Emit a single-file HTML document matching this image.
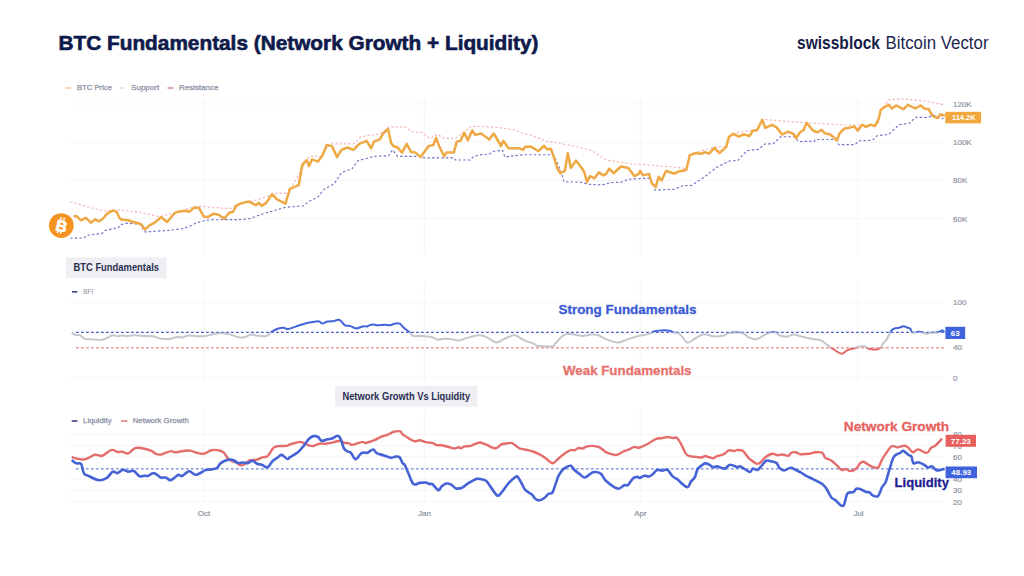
<!DOCTYPE html>
<html><head><meta charset="utf-8"><style>
html,body{margin:0;padding:0;background:#fff;}
body{width:1024px;height:576px;overflow:hidden;position:relative;font-family:"Liberation Sans",sans-serif;}
svg{position:absolute;left:0;top:0;}
</style></head><body>
<svg width="1024" height="576" viewBox="0 0 1024 576" font-family="Liberation Sans, sans-serif">
<rect width="1024" height="576" fill="#ffffff"/>
<line x1="70" y1="104" x2="945" y2="104" stroke="#f4f5f7" stroke-width="1"/>
<line x1="70" y1="142" x2="945" y2="142" stroke="#f4f5f7" stroke-width="1"/>
<line x1="70" y1="180.5" x2="945" y2="180.5" stroke="#f4f5f7" stroke-width="1"/>
<line x1="70" y1="218.5" x2="945" y2="218.5" stroke="#f4f5f7" stroke-width="1"/>
<line x1="70" y1="302.5" x2="945" y2="302.5" stroke="#f4f5f8" stroke-width="1"/>
<line x1="70" y1="378" x2="945" y2="378" stroke="#f4f5f8" stroke-width="1"/>
<line x1="70" y1="434.4" x2="945" y2="434.4" stroke="#f4f5f8" stroke-width="1"/>
<line x1="70" y1="445.6" x2="945" y2="445.6" stroke="#f4f5f8" stroke-width="1"/>
<line x1="70" y1="456.8" x2="945" y2="456.8" stroke="#f4f5f8" stroke-width="1"/>
<line x1="70" y1="468.4" x2="945" y2="468.4" stroke="#f4f5f8" stroke-width="1"/>
<line x1="70" y1="479.2" x2="945" y2="479.2" stroke="#f4f5f8" stroke-width="1"/>
<line x1="70" y1="490.4" x2="945" y2="490.4" stroke="#f4f5f8" stroke-width="1"/>
<line x1="70" y1="501.6" x2="945" y2="501.6" stroke="#f4f5f8" stroke-width="1"/>
<line x1="203.5" y1="98" x2="203.5" y2="255" stroke="#f4f5f7" stroke-width="1"/>
<line x1="203.5" y1="282" x2="203.5" y2="385" stroke="#f4f5f7" stroke-width="1"/>
<line x1="203.5" y1="410" x2="203.5" y2="502.5" stroke="#f4f5f7" stroke-width="1"/>
<line x1="424.3" y1="98" x2="424.3" y2="255" stroke="#f4f5f7" stroke-width="1"/>
<line x1="424.3" y1="282" x2="424.3" y2="385" stroke="#f4f5f7" stroke-width="1"/>
<line x1="424.3" y1="410" x2="424.3" y2="502.5" stroke="#f4f5f7" stroke-width="1"/>
<line x1="640.2" y1="98" x2="640.2" y2="255" stroke="#f4f5f7" stroke-width="1"/>
<line x1="640.2" y1="282" x2="640.2" y2="385" stroke="#f4f5f7" stroke-width="1"/>
<line x1="640.2" y1="410" x2="640.2" y2="502.5" stroke="#f4f5f7" stroke-width="1"/>
<line x1="857.8" y1="98" x2="857.8" y2="255" stroke="#f4f5f7" stroke-width="1"/>
<line x1="857.8" y1="282" x2="857.8" y2="385" stroke="#f4f5f7" stroke-width="1"/>
<line x1="857.8" y1="410" x2="857.8" y2="502.5" stroke="#f4f5f7" stroke-width="1"/>
<polyline points="70.3,201.7 94.2,208.6 104.0,211.0 118.6,210.0 138.1,212.0 155.7,215.9 160.0,216.5 175.0,213.0 195.0,206.5 202.9,206.4 223.4,208.3 231.2,208.3 240.0,203.0 252.7,201.0 276.6,193.3 288.4,193.3 302.4,167.5 309.1,156.4 320.9,156.4 329.7,143.9 353.4,143.9 360.7,137.0 370.0,135.0 380.0,134.0 388.9,126.8 405.1,126.8 412.5,132.0 422.8,132.7 430.2,138.6 437.6,134.2 443.5,137.9 455.3,138.6 471.5,126.1 498.1,127.5 512.9,129.8 521.7,132.7 530.0,134.9 547.1,141.4 569.3,145.1 591.4,150.3 606.2,159.9 628.4,163.6 657.9,165.8 675.0,167.2 686.2,168.5 689.5,155.0 695.8,152.5 714.3,147.3 726.0,146.6 729.1,136.2 733.5,133.3 752.7,130.3 757.1,129.6 762.3,119.3 764.5,119.5 795.5,122.0 820.0,123.5 843.0,125.0 878.0,125.0 880.7,110.0 884.4,106.5 888.8,99.6 903.6,98.9 930.2,101.8 943.5,104.8" fill="none" stroke="#f3b2ae" stroke-width="1.15" stroke-dasharray="2.2,2.2"/>
<polyline points="70.3,238.3 84.4,237.9 86.4,235.4 102.0,233.5 104.9,230.5 118.6,227.6 120.5,224.7 126.4,223.2 140.0,224.2 145.0,232.0 169.6,230.3 184.3,228.3 190.2,225.9 196.0,223.0 205.8,220.2 213.6,219.8 242.9,219.5 250.0,218.4 264.8,213.3 285.4,207.3 303.2,205.9 309.1,201.4 317.9,197.0 323.8,189.6 334.2,183.7 341.5,172.6 351.9,169.0 357.8,160.8 374.0,156.4 388.8,155.7 392.5,149.8 397.6,156.4 419.9,156.3 424.3,157.8 453.8,157.8 455.3,160.0 470.1,160.0 473.0,157.1 478.9,154.9 489.3,154.1 493.7,151.2 502.5,150.4 504.8,157.1 515.8,155.6 525.0,154.7 553.1,154.7 556.7,161.3 561.2,172.4 564.1,182.0 579.6,182.0 588.5,184.2 601.8,185.0 610.6,182.7 622.4,182.0 628.4,179.1 649.0,178.3 653.5,185.0 654.9,190.1 674.4,189.2 683.3,185.5 691.4,185.5 704.0,177.3 717.2,167.0 729.1,161.1 737.9,160.4 746.8,150.8 758.6,149.3 764.5,144.1 773.4,143.7 780.7,136.7 794.0,136.7 798.5,141.6 814.7,141.2 815.0,139.5 832.7,139.5 837.1,140.9 838.6,144.6 854.9,144.6 859.3,140.9 872.6,140.2 877.0,135.8 888.8,134.3 899.2,124.7 909.5,123.2 915.4,117.3 928.7,117.3 933.1,115.1 943.5,118.8" fill="none" stroke="#6d71c6" stroke-width="1.15" stroke-dasharray="2.4,2.2"/>
<polyline points="73.7,215.9 76.6,216.2 81.0,220.3 85.9,217.8 90.8,222.7 95.2,219.3 99.1,221.3 103.0,218.8 105.9,214.9 108.8,212.5 113.7,210.5 116.6,212.0 119.6,218.3 122.5,219.8 128.4,220.3 132.3,221.7 138.1,223.2 141.1,224.2 145.0,229.6 149.8,225.2 153.8,223.2 157.7,220.3 160.9,217.1 167.2,222.0 174.5,213.2 178.4,211.7 185.3,210.8 189.2,211.7 194.1,207.8 198.9,207.8 203.8,216.6 207.7,217.1 213.6,213.7 218.5,214.7 224.3,218.6 229.2,212.7 233.1,211.7 236.1,205.9 240.9,203.4 248.8,201.5 250.0,202.2 255.9,205.1 258.9,202.9 261.8,205.9 266.2,202.9 272.1,194.1 276.6,199.2 285.4,203.7 289.9,188.9 298.7,185.2 302.4,164.5 306.8,160.1 309.1,166.0 312.0,159.4 317.9,161.6 322.3,155.7 326.8,145.0 331.9,146.1 337.1,157.1 341.5,149.8 347.4,147.5 353.4,149.8 359.3,143.9 366.6,140.9 371.1,148.3 374.0,141.6 379.9,139.4 383.0,133.5 388.1,129.0 391.1,143.1 393.3,146.0 397.7,147.5 402.1,152.6 406.6,143.8 411.0,151.9 415.4,152.6 420.6,157.1 428.7,146.0 433.2,145.3 436.1,137.9 439.1,146.0 444.2,156.3 446.4,152.6 453.8,152.6 456.8,141.6 460.5,140.8 464.2,132.7 467.8,140.1 472.3,130.5 475.2,134.9 481.1,133.5 489.3,139.4 493.7,133.5 501.1,146.0 503.3,140.8 508.5,148.2 518.8,148.2 523.2,149.7 525.4,146.7 530.9,146.6 538.3,151.0 544.2,145.8 547.1,149.5 550.8,148.8 553.1,154.7 557.5,168.7 560.4,173.2 564.9,170.9 567.8,153.2 570.8,168.0 575.9,160.6 581.1,167.2 584.1,171.7 587.0,182.0 590.0,176.1 594.4,178.3 598.8,172.4 603.3,175.4 606.2,173.9 609.2,168.7 613.6,173.2 621.0,166.5 628.4,168.0 634.3,176.1 638.7,173.9 640.2,170.9 643.1,175.4 649.0,173.9 652.0,183.5 655.7,187.2 658.6,176.8 661.6,180.5 666.0,170.9 670.0,172.2 674.4,173.7 678.9,171.4 686.2,170.0 689.9,155.2 695.8,153.0 701.0,153.7 705.4,152.2 709.1,153.7 714.3,147.8 719.5,153.0 726.1,147.1 729.1,136.7 733.5,133.8 738.7,136.7 743.8,134.5 749.7,136.0 752.7,130.8 757.1,130.1 762.3,119.8 765.2,127.9 771.9,124.9 776.3,127.1 782.2,134.5 788.1,131.6 793.3,133.8 796.2,138.2 799.9,132.3 803.6,130.1 806.6,122.7 813.2,130.8 817.6,132.3 821.6,129.9 825.3,133.6 829.8,134.3 837.1,140.2 839.4,133.6 844.5,128.4 850.4,127.6 854.1,126.2 857.8,130.6 862.2,124.7 865.9,126.9 871.1,124.7 874.8,126.2 878.5,119.5 880.7,109.9 884.4,107.0 888.8,104.8 891.8,108.5 896.2,105.5 903.6,109.2 908.0,104.8 915.4,108.5 920.6,105.5 924.3,108.5 928.7,109.2 932.4,115.8 937.5,118.1 940.5,114.4 944.9,115.8" fill="none" stroke="#eea944" stroke-width="2.5" stroke-linejoin="round"/>
<defs><clipPath id="cb"><rect x="0" y="0" width="1024" height="332.4"/></clipPath><clipPath id="cg"><rect x="0" y="332.4" width="1024" height="15.3"/></clipPath><clipPath id="cr"><rect x="0" y="347.7" width="1024" height="100"/></clipPath></defs>
<line x1="76" y1="332.4" x2="945" y2="332.4" stroke="#4c5cc4" stroke-width="1.3" stroke-dasharray="2.8,2.2"/>
<line x1="76" y1="347.7" x2="945" y2="347.7" stroke="#e99a9a" stroke-width="1.4" stroke-dasharray="2.8,2.2"/>
<path clip-path="url(#cb)" d="M71.6,333.0 C72.2,333.3 73.5,334.4 75.0,334.8 C76.5,335.2 79.0,334.9 80.5,335.5 C82.0,336.1 82.3,337.9 83.9,338.5 C85.5,339.1 87.2,339.1 90.1,339.3 C92.9,339.5 98.3,340.1 101.0,339.9 C103.7,339.7 104.6,339.0 106.5,338.2 C108.4,337.4 110.8,335.5 112.6,335.2 C114.4,334.9 115.7,336.1 117.4,336.2 C119.1,336.2 121.3,335.5 122.9,335.5 C124.5,335.5 125.2,336.2 127.0,336.2 C128.8,336.1 131.3,335.3 133.8,335.2 C136.3,335.1 138.8,335.6 142.0,335.8 C145.2,336.0 150.0,335.8 153.0,336.2 C156.0,336.6 157.1,338.1 159.8,338.5 C162.5,338.9 166.4,339.2 169.4,338.9 C172.4,338.6 175.6,337.1 177.6,336.9 C179.6,336.7 179.9,337.8 181.7,337.6 C183.5,337.4 186.0,335.7 188.5,335.5 C191.0,335.3 193.8,336.1 196.7,336.2 C199.6,336.3 203.0,336.4 205.9,336.0 C208.8,335.6 211.4,334.4 214.1,333.9 C216.8,333.4 219.6,332.9 222.3,333.0 C225.0,333.1 227.8,333.9 230.5,334.6 C233.2,335.3 236.5,336.9 238.8,337.3 C241.1,337.8 242.1,337.8 244.2,337.3 C246.2,336.9 248.8,334.9 251.1,334.6 C253.4,334.3 255.4,335.5 257.9,335.7 C260.4,335.9 263.8,336.6 266.1,336.0 C268.4,335.4 269.6,333.1 271.6,331.9 C273.7,330.6 276.3,329.2 278.4,328.5 C280.4,327.8 282.3,327.7 283.9,327.8 C285.5,327.9 285.9,329.3 288.0,329.1 C290.1,328.9 293.5,327.3 296.2,326.4 C298.9,325.5 301.7,324.4 304.4,323.7 C307.1,323.0 310.2,322.4 312.6,322.0 C315.0,321.6 317.1,321.0 318.7,321.2 C320.3,321.4 320.7,323.3 322.2,323.4 C323.7,323.5 325.6,322.0 327.6,321.6 C329.6,321.2 332.3,321.2 334.1,320.9 C335.9,320.6 337.1,319.8 338.2,319.8 C339.3,319.8 339.8,320.0 340.9,320.9 C342.0,321.8 343.4,324.4 345.0,325.3 C346.6,326.2 348.7,325.6 350.5,326.1 C352.3,326.6 353.9,328.4 356.0,328.5 C358.1,328.6 361.0,326.8 362.8,326.4 C364.6,326.0 365.3,326.7 366.9,326.4 C368.5,326.1 370.7,324.6 372.4,324.4 C374.1,324.2 375.1,325.2 377.2,325.3 C379.2,325.4 382.5,324.8 384.7,324.8 C386.9,324.8 388.6,325.5 390.2,325.3 C391.8,325.1 392.7,324.0 394.3,323.7 C395.9,323.4 398.1,323.0 399.7,323.7 C401.3,324.4 402.2,326.4 403.8,327.8 C405.4,329.2 407.7,330.7 409.3,332.1 C410.9,333.5 411.6,335.4 413.4,336.0 C415.2,336.6 417.2,335.8 420.2,336.0 C423.2,336.2 428.2,336.5 431.2,337.1 C434.2,337.7 435.9,339.5 438.0,339.8 C440.1,340.1 441.4,338.8 443.5,338.7 C445.6,338.6 447.8,338.7 450.3,339.0 C452.8,339.3 455.8,340.6 458.5,340.4 C461.2,340.2 464.5,338.6 466.7,338.0 C468.9,337.4 469.8,337.1 471.8,336.7 C473.8,336.2 476.4,335.3 478.7,335.3 C481.0,335.3 482.6,335.5 485.5,336.7 C488.4,337.9 493.4,342.1 496.4,342.5 C499.4,342.9 500.6,340.6 503.3,339.4 C506.1,338.2 510.6,335.9 512.9,335.3 C515.2,334.7 515.2,335.2 517.0,336.0 C518.8,336.8 521.1,338.9 523.8,340.1 C526.5,341.4 531.1,342.6 533.4,343.5 C535.7,344.4 534.3,345.4 537.5,345.8 C540.7,346.2 549.5,346.6 552.5,346.2 C555.5,345.8 553.4,345.3 555.2,343.5 C557.0,341.7 561.1,336.9 563.4,335.3 C565.7,333.7 567.1,334.0 568.9,333.9 C570.7,333.8 572.1,334.2 574.4,334.6 C576.7,335.0 579.9,336.0 582.6,336.0 C585.3,336.0 588.3,334.8 590.8,334.6 C593.3,334.4 594.9,334.1 597.6,334.9 C600.3,335.7 603.4,338.1 606.8,339.4 C610.2,340.7 614.4,342.5 617.8,342.5 C621.2,342.5 623.9,340.5 627.3,339.4 C630.7,338.3 634.6,336.9 638.3,336.0 C641.9,335.1 646.5,334.7 649.2,333.9 C651.9,333.1 652.2,331.8 654.7,331.2 C657.2,330.6 661.8,330.3 664.3,330.2 C666.8,330.1 668.1,330.4 669.7,330.8 C671.3,331.2 672.2,332.2 673.8,332.6 C675.4,333.1 677.0,331.9 679.3,333.5 C681.6,335.1 684.8,341.8 687.5,342.5 C690.2,343.2 693.0,339.4 695.7,338.0 C698.4,336.6 700.9,334.6 703.9,334.3 C706.9,334.0 710.3,336.1 713.5,336.3 C716.7,336.5 720.5,336.2 723.0,335.7 C725.5,335.2 726.5,333.7 728.5,333.2 C730.5,332.7 732.5,332.5 735.0,332.5 C737.5,332.5 740.9,332.4 743.2,333.2 C745.5,334.0 746.4,336.3 748.7,337.3 C751.0,338.3 754.2,339.6 756.9,339.1 C759.6,338.7 762.8,335.7 765.1,334.6 C767.4,333.5 768.7,332.9 770.5,332.5 C772.3,332.1 774.4,332.0 776.0,332.5 C777.6,333.0 778.3,334.8 780.1,335.5 C781.9,336.2 784.7,336.8 787.0,336.6 C789.3,336.5 791.3,334.6 793.8,334.6 C796.3,334.6 799.0,335.9 802.0,336.6 C805.0,337.3 808.4,338.1 811.6,338.7 C814.8,339.3 818.4,339.3 821.1,340.4 C823.8,341.5 826.0,344.0 828.0,345.5 C830.0,347.0 831.1,347.8 833.4,349.2 C835.7,350.6 839.3,353.5 841.6,353.7 C843.9,353.9 845.0,351.2 847.1,350.3 C849.2,349.4 851.4,348.9 854.0,348.2 C856.6,347.5 860.6,346.0 862.9,346.0 C865.2,346.0 866.2,347.6 867.8,348.2 C869.4,348.8 871.1,349.2 872.7,349.4 C874.3,349.6 876.3,349.7 877.6,349.4 C878.9,349.1 879.5,348.8 880.5,347.7 C881.5,346.6 882.4,344.1 883.4,342.8 C884.4,341.5 885.4,341.3 886.4,339.9 C887.4,338.5 888.4,336.1 889.3,334.5 C890.2,332.9 890.7,331.2 891.7,330.1 C892.7,329.1 894.0,328.6 895.2,328.2 C896.4,327.8 897.7,328.0 899.1,327.7 C900.5,327.4 902.2,326.2 903.5,326.2 C904.8,326.2 905.8,327.1 906.9,327.5 C908.0,327.9 909.3,327.8 910.3,328.7 C911.3,329.6 911.3,332.3 912.7,332.8 C914.1,333.3 916.8,331.8 918.6,331.8 C920.4,331.8 922.2,332.4 923.5,332.8 C924.8,333.2 925.3,334.0 926.4,334.0 C927.5,334.0 928.5,333.0 930.3,332.8 C932.1,332.6 935.1,333.0 937.1,332.6 C939.1,332.2 940.8,330.7 942.0,330.6 C943.2,330.5 944.1,331.9 944.5,332.1" fill="none" stroke="#4464d9" stroke-width="2" stroke-linejoin="round"/>
<path clip-path="url(#cg)" d="M71.6,333.0 C72.2,333.3 73.5,334.4 75.0,334.8 C76.5,335.2 79.0,334.9 80.5,335.5 C82.0,336.1 82.3,337.9 83.9,338.5 C85.5,339.1 87.2,339.1 90.1,339.3 C92.9,339.5 98.3,340.1 101.0,339.9 C103.7,339.7 104.6,339.0 106.5,338.2 C108.4,337.4 110.8,335.5 112.6,335.2 C114.4,334.9 115.7,336.1 117.4,336.2 C119.1,336.2 121.3,335.5 122.9,335.5 C124.5,335.5 125.2,336.2 127.0,336.2 C128.8,336.1 131.3,335.3 133.8,335.2 C136.3,335.1 138.8,335.6 142.0,335.8 C145.2,336.0 150.0,335.8 153.0,336.2 C156.0,336.6 157.1,338.1 159.8,338.5 C162.5,338.9 166.4,339.2 169.4,338.9 C172.4,338.6 175.6,337.1 177.6,336.9 C179.6,336.7 179.9,337.8 181.7,337.6 C183.5,337.4 186.0,335.7 188.5,335.5 C191.0,335.3 193.8,336.1 196.7,336.2 C199.6,336.3 203.0,336.4 205.9,336.0 C208.8,335.6 211.4,334.4 214.1,333.9 C216.8,333.4 219.6,332.9 222.3,333.0 C225.0,333.1 227.8,333.9 230.5,334.6 C233.2,335.3 236.5,336.9 238.8,337.3 C241.1,337.8 242.1,337.8 244.2,337.3 C246.2,336.9 248.8,334.9 251.1,334.6 C253.4,334.3 255.4,335.5 257.9,335.7 C260.4,335.9 263.8,336.6 266.1,336.0 C268.4,335.4 269.6,333.1 271.6,331.9 C273.7,330.6 276.3,329.2 278.4,328.5 C280.4,327.8 282.3,327.7 283.9,327.8 C285.5,327.9 285.9,329.3 288.0,329.1 C290.1,328.9 293.5,327.3 296.2,326.4 C298.9,325.5 301.7,324.4 304.4,323.7 C307.1,323.0 310.2,322.4 312.6,322.0 C315.0,321.6 317.1,321.0 318.7,321.2 C320.3,321.4 320.7,323.3 322.2,323.4 C323.7,323.5 325.6,322.0 327.6,321.6 C329.6,321.2 332.3,321.2 334.1,320.9 C335.9,320.6 337.1,319.8 338.2,319.8 C339.3,319.8 339.8,320.0 340.9,320.9 C342.0,321.8 343.4,324.4 345.0,325.3 C346.6,326.2 348.7,325.6 350.5,326.1 C352.3,326.6 353.9,328.4 356.0,328.5 C358.1,328.6 361.0,326.8 362.8,326.4 C364.6,326.0 365.3,326.7 366.9,326.4 C368.5,326.1 370.7,324.6 372.4,324.4 C374.1,324.2 375.1,325.2 377.2,325.3 C379.2,325.4 382.5,324.8 384.7,324.8 C386.9,324.8 388.6,325.5 390.2,325.3 C391.8,325.1 392.7,324.0 394.3,323.7 C395.9,323.4 398.1,323.0 399.7,323.7 C401.3,324.4 402.2,326.4 403.8,327.8 C405.4,329.2 407.7,330.7 409.3,332.1 C410.9,333.5 411.6,335.4 413.4,336.0 C415.2,336.6 417.2,335.8 420.2,336.0 C423.2,336.2 428.2,336.5 431.2,337.1 C434.2,337.7 435.9,339.5 438.0,339.8 C440.1,340.1 441.4,338.8 443.5,338.7 C445.6,338.6 447.8,338.7 450.3,339.0 C452.8,339.3 455.8,340.6 458.5,340.4 C461.2,340.2 464.5,338.6 466.7,338.0 C468.9,337.4 469.8,337.1 471.8,336.7 C473.8,336.2 476.4,335.3 478.7,335.3 C481.0,335.3 482.6,335.5 485.5,336.7 C488.4,337.9 493.4,342.1 496.4,342.5 C499.4,342.9 500.6,340.6 503.3,339.4 C506.1,338.2 510.6,335.9 512.9,335.3 C515.2,334.7 515.2,335.2 517.0,336.0 C518.8,336.8 521.1,338.9 523.8,340.1 C526.5,341.4 531.1,342.6 533.4,343.5 C535.7,344.4 534.3,345.4 537.5,345.8 C540.7,346.2 549.5,346.6 552.5,346.2 C555.5,345.8 553.4,345.3 555.2,343.5 C557.0,341.7 561.1,336.9 563.4,335.3 C565.7,333.7 567.1,334.0 568.9,333.9 C570.7,333.8 572.1,334.2 574.4,334.6 C576.7,335.0 579.9,336.0 582.6,336.0 C585.3,336.0 588.3,334.8 590.8,334.6 C593.3,334.4 594.9,334.1 597.6,334.9 C600.3,335.7 603.4,338.1 606.8,339.4 C610.2,340.7 614.4,342.5 617.8,342.5 C621.2,342.5 623.9,340.5 627.3,339.4 C630.7,338.3 634.6,336.9 638.3,336.0 C641.9,335.1 646.5,334.7 649.2,333.9 C651.9,333.1 652.2,331.8 654.7,331.2 C657.2,330.6 661.8,330.3 664.3,330.2 C666.8,330.1 668.1,330.4 669.7,330.8 C671.3,331.2 672.2,332.2 673.8,332.6 C675.4,333.1 677.0,331.9 679.3,333.5 C681.6,335.1 684.8,341.8 687.5,342.5 C690.2,343.2 693.0,339.4 695.7,338.0 C698.4,336.6 700.9,334.6 703.9,334.3 C706.9,334.0 710.3,336.1 713.5,336.3 C716.7,336.5 720.5,336.2 723.0,335.7 C725.5,335.2 726.5,333.7 728.5,333.2 C730.5,332.7 732.5,332.5 735.0,332.5 C737.5,332.5 740.9,332.4 743.2,333.2 C745.5,334.0 746.4,336.3 748.7,337.3 C751.0,338.3 754.2,339.6 756.9,339.1 C759.6,338.7 762.8,335.7 765.1,334.6 C767.4,333.5 768.7,332.9 770.5,332.5 C772.3,332.1 774.4,332.0 776.0,332.5 C777.6,333.0 778.3,334.8 780.1,335.5 C781.9,336.2 784.7,336.8 787.0,336.6 C789.3,336.5 791.3,334.6 793.8,334.6 C796.3,334.6 799.0,335.9 802.0,336.6 C805.0,337.3 808.4,338.1 811.6,338.7 C814.8,339.3 818.4,339.3 821.1,340.4 C823.8,341.5 826.0,344.0 828.0,345.5 C830.0,347.0 831.1,347.8 833.4,349.2 C835.7,350.6 839.3,353.5 841.6,353.7 C843.9,353.9 845.0,351.2 847.1,350.3 C849.2,349.4 851.4,348.9 854.0,348.2 C856.6,347.5 860.6,346.0 862.9,346.0 C865.2,346.0 866.2,347.6 867.8,348.2 C869.4,348.8 871.1,349.2 872.7,349.4 C874.3,349.6 876.3,349.7 877.6,349.4 C878.9,349.1 879.5,348.8 880.5,347.7 C881.5,346.6 882.4,344.1 883.4,342.8 C884.4,341.5 885.4,341.3 886.4,339.9 C887.4,338.5 888.4,336.1 889.3,334.5 C890.2,332.9 890.7,331.2 891.7,330.1 C892.7,329.1 894.0,328.6 895.2,328.2 C896.4,327.8 897.7,328.0 899.1,327.7 C900.5,327.4 902.2,326.2 903.5,326.2 C904.8,326.2 905.8,327.1 906.9,327.5 C908.0,327.9 909.3,327.8 910.3,328.7 C911.3,329.6 911.3,332.3 912.7,332.8 C914.1,333.3 916.8,331.8 918.6,331.8 C920.4,331.8 922.2,332.4 923.5,332.8 C924.8,333.2 925.3,334.0 926.4,334.0 C927.5,334.0 928.5,333.0 930.3,332.8 C932.1,332.6 935.1,333.0 937.1,332.6 C939.1,332.2 940.8,330.7 942.0,330.6 C943.2,330.5 944.1,331.9 944.5,332.1" fill="none" stroke="#c3c7ce" stroke-width="2" stroke-linejoin="round"/>
<path clip-path="url(#cr)" d="M71.6,333.0 C72.2,333.3 73.5,334.4 75.0,334.8 C76.5,335.2 79.0,334.9 80.5,335.5 C82.0,336.1 82.3,337.9 83.9,338.5 C85.5,339.1 87.2,339.1 90.1,339.3 C92.9,339.5 98.3,340.1 101.0,339.9 C103.7,339.7 104.6,339.0 106.5,338.2 C108.4,337.4 110.8,335.5 112.6,335.2 C114.4,334.9 115.7,336.1 117.4,336.2 C119.1,336.2 121.3,335.5 122.9,335.5 C124.5,335.5 125.2,336.2 127.0,336.2 C128.8,336.1 131.3,335.3 133.8,335.2 C136.3,335.1 138.8,335.6 142.0,335.8 C145.2,336.0 150.0,335.8 153.0,336.2 C156.0,336.6 157.1,338.1 159.8,338.5 C162.5,338.9 166.4,339.2 169.4,338.9 C172.4,338.6 175.6,337.1 177.6,336.9 C179.6,336.7 179.9,337.8 181.7,337.6 C183.5,337.4 186.0,335.7 188.5,335.5 C191.0,335.3 193.8,336.1 196.7,336.2 C199.6,336.3 203.0,336.4 205.9,336.0 C208.8,335.6 211.4,334.4 214.1,333.9 C216.8,333.4 219.6,332.9 222.3,333.0 C225.0,333.1 227.8,333.9 230.5,334.6 C233.2,335.3 236.5,336.9 238.8,337.3 C241.1,337.8 242.1,337.8 244.2,337.3 C246.2,336.9 248.8,334.9 251.1,334.6 C253.4,334.3 255.4,335.5 257.9,335.7 C260.4,335.9 263.8,336.6 266.1,336.0 C268.4,335.4 269.6,333.1 271.6,331.9 C273.7,330.6 276.3,329.2 278.4,328.5 C280.4,327.8 282.3,327.7 283.9,327.8 C285.5,327.9 285.9,329.3 288.0,329.1 C290.1,328.9 293.5,327.3 296.2,326.4 C298.9,325.5 301.7,324.4 304.4,323.7 C307.1,323.0 310.2,322.4 312.6,322.0 C315.0,321.6 317.1,321.0 318.7,321.2 C320.3,321.4 320.7,323.3 322.2,323.4 C323.7,323.5 325.6,322.0 327.6,321.6 C329.6,321.2 332.3,321.2 334.1,320.9 C335.9,320.6 337.1,319.8 338.2,319.8 C339.3,319.8 339.8,320.0 340.9,320.9 C342.0,321.8 343.4,324.4 345.0,325.3 C346.6,326.2 348.7,325.6 350.5,326.1 C352.3,326.6 353.9,328.4 356.0,328.5 C358.1,328.6 361.0,326.8 362.8,326.4 C364.6,326.0 365.3,326.7 366.9,326.4 C368.5,326.1 370.7,324.6 372.4,324.4 C374.1,324.2 375.1,325.2 377.2,325.3 C379.2,325.4 382.5,324.8 384.7,324.8 C386.9,324.8 388.6,325.5 390.2,325.3 C391.8,325.1 392.7,324.0 394.3,323.7 C395.9,323.4 398.1,323.0 399.7,323.7 C401.3,324.4 402.2,326.4 403.8,327.8 C405.4,329.2 407.7,330.7 409.3,332.1 C410.9,333.5 411.6,335.4 413.4,336.0 C415.2,336.6 417.2,335.8 420.2,336.0 C423.2,336.2 428.2,336.5 431.2,337.1 C434.2,337.7 435.9,339.5 438.0,339.8 C440.1,340.1 441.4,338.8 443.5,338.7 C445.6,338.6 447.8,338.7 450.3,339.0 C452.8,339.3 455.8,340.6 458.5,340.4 C461.2,340.2 464.5,338.6 466.7,338.0 C468.9,337.4 469.8,337.1 471.8,336.7 C473.8,336.2 476.4,335.3 478.7,335.3 C481.0,335.3 482.6,335.5 485.5,336.7 C488.4,337.9 493.4,342.1 496.4,342.5 C499.4,342.9 500.6,340.6 503.3,339.4 C506.1,338.2 510.6,335.9 512.9,335.3 C515.2,334.7 515.2,335.2 517.0,336.0 C518.8,336.8 521.1,338.9 523.8,340.1 C526.5,341.4 531.1,342.6 533.4,343.5 C535.7,344.4 534.3,345.4 537.5,345.8 C540.7,346.2 549.5,346.6 552.5,346.2 C555.5,345.8 553.4,345.3 555.2,343.5 C557.0,341.7 561.1,336.9 563.4,335.3 C565.7,333.7 567.1,334.0 568.9,333.9 C570.7,333.8 572.1,334.2 574.4,334.6 C576.7,335.0 579.9,336.0 582.6,336.0 C585.3,336.0 588.3,334.8 590.8,334.6 C593.3,334.4 594.9,334.1 597.6,334.9 C600.3,335.7 603.4,338.1 606.8,339.4 C610.2,340.7 614.4,342.5 617.8,342.5 C621.2,342.5 623.9,340.5 627.3,339.4 C630.7,338.3 634.6,336.9 638.3,336.0 C641.9,335.1 646.5,334.7 649.2,333.9 C651.9,333.1 652.2,331.8 654.7,331.2 C657.2,330.6 661.8,330.3 664.3,330.2 C666.8,330.1 668.1,330.4 669.7,330.8 C671.3,331.2 672.2,332.2 673.8,332.6 C675.4,333.1 677.0,331.9 679.3,333.5 C681.6,335.1 684.8,341.8 687.5,342.5 C690.2,343.2 693.0,339.4 695.7,338.0 C698.4,336.6 700.9,334.6 703.9,334.3 C706.9,334.0 710.3,336.1 713.5,336.3 C716.7,336.5 720.5,336.2 723.0,335.7 C725.5,335.2 726.5,333.7 728.5,333.2 C730.5,332.7 732.5,332.5 735.0,332.5 C737.5,332.5 740.9,332.4 743.2,333.2 C745.5,334.0 746.4,336.3 748.7,337.3 C751.0,338.3 754.2,339.6 756.9,339.1 C759.6,338.7 762.8,335.7 765.1,334.6 C767.4,333.5 768.7,332.9 770.5,332.5 C772.3,332.1 774.4,332.0 776.0,332.5 C777.6,333.0 778.3,334.8 780.1,335.5 C781.9,336.2 784.7,336.8 787.0,336.6 C789.3,336.5 791.3,334.6 793.8,334.6 C796.3,334.6 799.0,335.9 802.0,336.6 C805.0,337.3 808.4,338.1 811.6,338.7 C814.8,339.3 818.4,339.3 821.1,340.4 C823.8,341.5 826.0,344.0 828.0,345.5 C830.0,347.0 831.1,347.8 833.4,349.2 C835.7,350.6 839.3,353.5 841.6,353.7 C843.9,353.9 845.0,351.2 847.1,350.3 C849.2,349.4 851.4,348.9 854.0,348.2 C856.6,347.5 860.6,346.0 862.9,346.0 C865.2,346.0 866.2,347.6 867.8,348.2 C869.4,348.8 871.1,349.2 872.7,349.4 C874.3,349.6 876.3,349.7 877.6,349.4 C878.9,349.1 879.5,348.8 880.5,347.7 C881.5,346.6 882.4,344.1 883.4,342.8 C884.4,341.5 885.4,341.3 886.4,339.9 C887.4,338.5 888.4,336.1 889.3,334.5 C890.2,332.9 890.7,331.2 891.7,330.1 C892.7,329.1 894.0,328.6 895.2,328.2 C896.4,327.8 897.7,328.0 899.1,327.7 C900.5,327.4 902.2,326.2 903.5,326.2 C904.8,326.2 905.8,327.1 906.9,327.5 C908.0,327.9 909.3,327.8 910.3,328.7 C911.3,329.6 911.3,332.3 912.7,332.8 C914.1,333.3 916.8,331.8 918.6,331.8 C920.4,331.8 922.2,332.4 923.5,332.8 C924.8,333.2 925.3,334.0 926.4,334.0 C927.5,334.0 928.5,333.0 930.3,332.8 C932.1,332.6 935.1,333.0 937.1,332.6 C939.1,332.2 940.8,330.7 942.0,330.6 C943.2,330.5 944.1,331.9 944.5,332.1" fill="none" stroke="#e46a6a" stroke-width="2" stroke-linejoin="round"/>
<line x1="76" y1="468.8" x2="945" y2="468.8" stroke="#6f86dc" stroke-width="1.2" stroke-dasharray="2.6,2.4"/>
<path d="M71.7,457.0 C72.7,457.3 75.6,458.3 77.6,458.7 C79.5,459.1 81.5,459.7 83.4,459.5 C85.4,459.3 87.3,458.3 89.3,457.5 C91.3,456.7 93.0,454.9 95.2,454.6 C97.4,454.3 99.5,456.6 102.2,455.8 C104.9,455.0 109.1,450.5 111.6,449.9 C114.1,449.3 115.7,451.7 117.4,452.0 C119.2,452.3 120.3,451.5 122.1,451.7 C123.9,451.9 125.8,454.0 128.0,453.4 C130.2,452.8 132.7,449.1 135.0,448.2 C137.3,447.3 139.3,447.8 142.0,448.2 C144.7,448.6 149.1,449.9 151.4,450.9 C153.8,451.9 154.5,453.4 156.1,454.0 C157.7,454.6 159.2,454.8 160.8,454.6 C162.4,454.4 163.8,453.5 165.5,452.9 C167.2,452.3 169.8,451.2 171.3,451.1 C172.9,451.0 173.2,452.2 174.8,452.3 C176.4,452.4 178.9,451.7 180.9,451.4 C182.9,451.1 184.9,450.6 186.7,450.5 C188.4,450.4 189.6,450.4 191.4,450.8 C193.2,451.2 195.2,452.4 197.3,452.9 C199.5,453.4 202.0,454.1 204.3,453.7 C206.6,453.2 208.8,450.7 211.3,450.2 C213.8,449.7 217.3,450.0 219.5,450.5 C221.7,451.0 222.6,451.6 224.2,453.1 C225.8,454.6 226.9,458.0 228.9,459.6 C230.9,461.2 234.0,461.5 235.9,462.5 C237.8,463.5 239.0,465.2 240.6,465.4 C242.2,465.6 243.7,464.6 245.3,463.7 C246.9,462.8 248.1,460.9 250.0,460.2 C251.9,459.5 254.8,460.1 257.0,459.6 C259.1,459.1 261.1,457.8 262.9,457.2 C264.7,456.6 265.9,457.7 267.6,456.1 C269.4,454.6 271.6,449.6 273.4,447.9 C275.1,446.2 276.0,446.4 278.1,446.1 C280.2,445.8 284.3,446.2 286.3,445.9 C288.3,445.6 288.6,444.8 290.0,444.3 C291.4,443.8 293.1,443.5 294.7,443.1 C296.3,442.7 297.8,441.9 299.4,441.9 C301.0,441.9 302.5,442.5 304.1,443.1 C305.7,443.7 307.2,444.9 308.8,445.4 C310.4,445.9 311.6,446.3 313.4,446.0 C315.1,445.7 317.3,444.1 319.3,443.7 C321.3,443.3 323.2,443.8 325.2,443.7 C327.1,443.6 329.1,443.3 331.0,442.9 C332.9,442.5 335.3,441.6 336.9,441.3 C338.5,441.0 339.2,440.5 340.4,440.8 C341.6,441.1 342.5,442.5 343.9,442.9 C345.3,443.3 347.2,442.8 348.6,443.1 C350.0,443.4 350.5,444.9 352.1,444.9 C353.7,444.9 356.2,443.6 358.0,443.1 C359.8,442.6 361.3,441.9 362.7,441.9 C364.1,441.9 364.2,443.2 366.2,442.9 C368.1,442.6 371.9,441.2 374.4,440.2 C376.9,439.1 379.2,437.5 381.4,436.6 C383.5,435.7 385.4,435.7 387.3,434.9 C389.2,434.1 391.0,432.6 393.1,432.0 C395.2,431.4 398.6,431.0 400.2,431.4 C401.8,431.8 401.3,433.3 402.5,434.3 C403.7,435.3 406.0,436.4 407.2,437.2 C408.4,438.0 408.6,438.4 409.9,439.1 C411.1,439.8 413.1,441.0 414.7,441.2 C416.3,441.4 417.8,440.1 419.6,440.3 C421.4,440.5 423.5,441.7 425.7,442.2 C427.9,442.7 431.2,442.6 433.0,443.1 C434.8,443.6 435.2,444.9 436.6,445.2 C438.0,445.5 439.5,444.9 441.5,445.2 C443.5,445.5 446.8,446.4 448.8,447.0 C450.8,447.6 452.0,448.4 453.6,448.5 C455.2,448.6 457.3,447.4 458.5,447.3 C459.7,447.2 459.9,448.4 460.9,448.2 C461.9,448.0 463.0,446.8 464.6,446.4 C466.2,446.0 468.5,446.4 470.7,445.8 C472.9,445.2 476.2,443.3 478.0,442.8 C479.8,442.3 480.0,442.4 481.6,442.8 C483.2,443.2 486.1,444.4 487.7,445.2 C489.3,445.9 489.9,446.8 491.3,447.3 C492.7,447.8 494.6,448.6 496.2,448.2 C497.8,447.8 499.4,445.4 501.0,444.6 C502.6,443.8 504.1,443.9 505.9,443.6 C507.7,443.4 509.8,442.3 512.0,443.1 C514.2,443.9 517.1,447.1 519.3,448.2 C521.5,449.3 522.7,448.9 525.0,449.5 C527.3,450.1 530.4,450.6 533.0,451.5 C535.6,452.4 538.6,453.8 540.8,455.0 C543.0,456.2 544.0,457.2 546.0,458.6 C548.0,460.0 550.5,463.1 552.5,463.2 C554.5,463.3 556.0,460.7 557.7,459.3 C559.5,457.9 560.8,456.2 563.0,454.7 C565.2,453.2 568.8,450.9 570.8,450.2 C572.8,449.4 573.4,450.6 574.7,450.2 C576.0,449.8 577.3,448.3 578.6,448.0 C579.9,447.7 581.2,448.7 582.5,448.5 C583.8,448.3 584.9,447.1 586.4,446.7 C587.9,446.3 589.6,445.9 591.6,445.9 C593.6,445.9 596.4,446.4 598.1,446.9 C599.8,447.4 600.7,448.0 602.0,448.9 C603.3,449.8 603.9,451.1 605.9,452.1 C607.9,453.1 611.8,454.3 613.7,454.7 C615.7,455.1 615.9,455.3 617.6,454.7 C619.3,454.1 622.2,452.0 624.1,451.1 C626.0,450.2 627.6,450.0 629.3,449.3 C631.0,448.6 632.9,447.1 634.5,446.9 C636.1,446.6 637.3,448.0 638.9,447.8 C640.5,447.6 642.4,446.4 644.1,445.6 C645.8,444.8 647.3,444.1 649.3,443.0 C651.2,441.9 653.6,439.9 655.8,439.1 C658.0,438.3 660.2,438.4 662.3,438.0 C664.4,437.6 666.5,437.0 668.2,437.0 C669.9,437.0 671.3,437.9 672.7,438.0 C674.1,438.1 675.4,436.9 676.7,437.8 C678.0,438.7 679.1,440.6 680.6,443.2 C682.1,445.8 684.3,451.4 685.8,453.6 C687.3,455.8 688.0,455.6 689.7,456.2 C691.4,456.8 694.2,456.7 696.2,456.9 C698.2,457.1 699.9,457.6 701.4,457.5 C702.9,457.4 704.2,456.1 705.3,456.0 C706.4,455.9 706.6,456.5 707.9,456.9 C709.2,457.3 711.6,458.3 713.1,458.2 C714.6,458.1 715.3,456.8 717.0,456.2 C718.7,455.6 721.5,455.3 723.5,454.3 C725.5,453.3 727.0,450.9 728.7,450.4 C730.4,449.8 732.4,451.1 733.9,451.0 C735.4,450.9 736.3,450.0 737.8,450.0 C739.3,450.0 741.3,449.8 743.0,451.0 C744.7,452.2 747.0,456.1 748.2,457.5 C749.4,458.9 748.6,458.2 750.0,459.2 C751.4,460.2 754.9,463.1 756.6,463.7 C758.3,464.3 758.9,463.6 760.3,462.6 C761.7,461.6 762.8,459.3 764.8,457.8 C766.8,456.3 769.9,454.2 772.1,453.8 C774.3,453.4 776.3,455.2 778.0,455.3 C779.7,455.4 780.8,454.4 782.5,454.5 C784.2,454.6 786.9,456.0 788.4,455.7 C789.9,455.4 790.1,453.3 791.3,452.7 C792.5,452.1 794.3,452.1 795.8,452.3 C797.3,452.6 798.0,453.9 800.2,454.2 C802.4,454.4 806.5,454.1 809.0,453.8 C811.5,453.5 812.7,452.5 814.9,452.3 C817.1,452.1 820.6,451.8 822.3,452.7 C824.0,453.6 823.8,456.5 825.3,457.8 C826.8,459.1 829.2,459.1 831.2,460.4 C833.2,461.7 835.4,464.0 837.1,465.6 C838.8,467.2 840.0,469.4 841.5,470.0 C843.0,470.6 844.4,468.8 845.9,469.0 C847.4,469.2 848.7,471.2 850.4,471.1 C852.1,471.0 854.7,469.8 856.3,468.5 C857.9,467.2 858.8,464.4 860.0,463.3 C861.2,462.2 862.1,461.5 863.5,461.7 C864.9,461.9 866.8,463.8 868.3,464.7 C869.8,465.6 870.9,466.3 872.5,466.8 C874.1,467.3 876.5,468.8 878.1,467.5 C879.7,466.2 880.8,461.6 882.2,459.2 C883.6,456.8 884.8,455.1 886.4,452.9 C888.0,450.7 890.0,446.9 891.9,446.0 C893.8,445.1 895.4,447.5 897.5,447.4 C899.6,447.3 902.7,445.6 904.4,445.6 C906.1,445.6 906.5,446.3 907.9,447.4 C909.3,448.5 911.1,451.9 912.8,452.2 C914.5,452.5 916.0,449.3 918.3,449.4 C920.6,449.5 924.6,453.1 926.7,452.9 C928.8,452.7 929.3,449.4 930.8,448.1 C932.3,446.8 933.8,446.9 935.7,445.3 C937.6,443.7 941.0,439.7 942.1,438.6" fill="none" stroke="#e46d6b" stroke-width="2.4" stroke-linejoin="round"/>
<path d="M71.7,460.2 C72.5,460.7 74.8,462.8 76.4,463.4 C78.0,464.0 79.8,462.3 81.1,464.0 C82.4,465.7 82.6,471.3 84.0,473.4 C85.4,475.4 86.8,475.2 89.3,476.3 C91.8,477.4 95.8,479.9 98.7,480.2 C101.6,480.4 104.6,479.2 106.9,477.8 C109.2,476.4 111.0,472.4 112.7,471.6 C114.5,470.8 115.7,473.4 117.4,473.1 C119.1,472.8 120.9,470.1 122.7,469.8 C124.5,469.6 126.2,471.4 128.0,471.6 C129.8,471.8 131.9,470.2 133.8,471.0 C135.8,471.8 137.9,475.5 139.7,476.3 C141.5,477.1 143.0,475.8 144.4,475.7 C145.8,475.6 146.3,476.3 147.9,475.9 C149.5,475.5 151.7,472.8 153.8,473.1 C156.0,473.4 158.9,476.8 160.8,477.5 C162.8,478.2 163.9,477.1 165.5,477.5 C167.1,477.9 168.8,480.1 170.2,480.2 C171.6,480.3 172.3,479.2 173.7,478.3 C175.1,477.4 177.1,475.2 178.5,474.8 C179.9,474.4 180.2,476.6 182.0,476.0 C183.8,475.4 186.8,471.5 189.1,471.3 C191.4,471.1 193.4,475.0 196.1,474.8 C198.8,474.6 203.0,471.0 205.5,470.1 C208.0,469.2 209.4,469.9 211.3,469.5 C213.2,469.1 215.6,468.9 217.2,467.8 C218.8,466.7 218.8,464.5 220.7,463.1 C222.6,461.7 226.8,460.1 228.9,459.6 C231.1,459.1 232.0,459.6 233.6,460.2 C235.2,460.8 236.7,462.7 238.3,463.1 C239.9,463.5 241.4,462.5 243.0,462.5 C244.6,462.5 246.1,463.4 247.7,463.1 C249.2,462.8 250.8,460.6 252.3,460.7 C253.9,460.8 255.4,463.0 257.0,463.7 C258.6,464.4 259.9,464.2 261.7,464.8 C263.5,465.4 265.8,467.8 267.6,467.2 C269.4,466.6 270.6,463.0 272.3,461.3 C274.1,459.6 276.6,458.3 278.1,457.2 C279.7,456.1 280.0,454.6 281.6,454.9 C283.2,455.2 286.1,458.6 287.5,459.0 C288.9,459.4 288.2,458.4 290.0,457.2 C291.8,456.0 295.8,453.9 298.2,451.9 C300.6,449.9 302.3,447.5 304.1,445.4 C305.9,443.2 307.2,440.6 308.8,439.0 C310.4,437.4 311.8,436.4 313.4,436.1 C314.9,435.8 316.7,436.2 318.1,437.0 C319.5,437.8 320.0,440.4 321.6,440.8 C323.2,441.2 325.7,439.7 327.5,439.3 C329.3,438.9 330.5,439.0 332.2,438.4 C333.9,437.8 336.1,435.8 337.5,435.8 C338.9,435.8 339.3,436.3 340.4,438.4 C341.5,440.5 342.7,446.2 343.9,448.4 C345.1,450.5 346.2,450.6 347.4,451.3 C348.6,452.0 349.5,451.4 350.9,452.7 C352.3,454.0 353.8,459.2 355.6,459.3 C357.4,459.4 359.6,454.2 361.5,453.1 C363.4,452.0 365.4,453.3 367.3,452.7 C369.2,452.1 371.6,449.4 373.2,449.5 C374.8,449.6 374.9,452.1 376.7,453.1 C378.5,454.1 381.4,454.6 383.8,455.4 C386.2,456.2 388.9,457.5 390.8,457.7 C392.8,457.9 394.0,456.7 395.5,456.6 C397.0,456.5 398.4,456.1 399.6,457.2 C400.8,458.3 401.6,461.6 402.5,463.0 C403.4,464.4 404.0,463.5 405.0,465.3 C406.0,467.1 407.2,470.7 408.6,473.8 C410.0,476.9 411.7,482.6 413.5,484.1 C415.3,485.6 417.6,483.2 419.6,482.9 C421.6,482.6 424.1,482.3 425.7,482.5 C427.3,482.7 428.2,483.8 429.3,484.1 C430.4,484.4 430.9,483.1 432.4,484.1 C433.9,485.1 436.9,489.8 438.4,490.2 C439.9,490.6 440.2,487.6 441.5,486.5 C442.8,485.4 444.7,483.8 446.3,483.5 C447.9,483.2 449.6,483.9 451.2,484.7 C452.8,485.5 454.3,487.9 456.1,488.4 C457.9,488.9 460.3,488.5 462.1,487.8 C463.9,487.1 465.4,485.2 467.0,484.1 C468.6,483.0 470.3,482.0 471.9,481.1 C473.5,480.2 475.1,479.2 476.7,478.9 C478.3,478.6 480.0,478.8 481.6,479.2 C483.2,479.6 484.7,479.4 486.5,481.1 C488.3,482.8 490.7,487.2 492.5,489.6 C494.3,492.0 496.0,495.1 497.4,495.7 C498.8,496.3 499.2,495.2 501.0,493.2 C502.8,491.2 505.9,486.2 508.3,483.5 C510.7,480.8 514.0,477.8 515.6,476.8 C517.2,475.8 517.1,476.3 518.1,477.4 C519.1,478.5 520.5,481.4 521.7,483.5 C522.9,485.6 523.5,488.1 525.2,489.9 C526.9,491.7 530.0,492.9 531.7,494.4 C533.4,495.9 534.3,498.0 535.6,499.0 C536.9,500.0 538.0,500.5 539.5,500.3 C541.0,500.1 543.2,498.8 544.7,497.7 C546.2,496.6 547.3,494.7 548.6,493.8 C549.9,492.9 551.3,494.2 552.5,492.5 C553.7,490.8 554.7,486.3 555.8,483.4 C556.9,480.5 557.6,477.4 559.0,474.9 C560.4,472.4 562.3,469.9 564.3,468.4 C566.3,466.9 569.1,465.5 570.8,465.8 C572.5,466.1 573.2,468.9 574.7,470.3 C576.2,471.7 578.2,473.1 579.9,474.3 C581.6,475.5 582.9,477.8 585.1,477.5 C587.3,477.2 590.3,472.9 592.9,472.3 C595.5,471.7 598.5,472.2 600.7,473.6 C602.9,475.0 603.1,478.3 605.9,480.8 C608.7,483.3 614.6,487.9 617.6,488.6 C620.6,489.4 622.4,485.9 624.1,485.3 C625.8,484.7 626.5,486.1 628.0,484.9 C629.5,483.7 631.7,479.5 633.2,478.2 C634.7,476.9 636.0,476.9 637.1,476.9 C638.2,476.8 638.8,478.1 640.0,477.9 C641.2,477.7 642.6,476.1 644.1,475.8 C645.6,475.6 647.8,476.7 649.3,476.4 C650.8,476.1 651.9,474.9 653.2,473.8 C654.5,472.7 655.6,470.4 657.1,469.9 C658.6,469.4 660.6,470.6 662.3,470.6 C664.0,470.6 665.8,468.9 667.5,469.9 C669.2,470.9 671.0,474.8 672.7,476.4 C674.5,478.0 676.5,478.5 678.0,479.7 C679.5,480.9 680.3,482.4 681.9,483.6 C683.5,484.9 686.2,487.5 687.7,487.2 C689.2,486.9 689.8,483.3 691.0,481.6 C692.2,479.9 693.8,479.2 694.9,477.1 C696.0,475.1 696.2,471.4 697.5,469.3 C698.8,467.2 701.4,465.7 702.7,464.7 C704.0,463.7 704.2,463.4 705.3,463.4 C706.4,463.4 707.9,464.0 709.2,464.7 C710.5,465.4 711.8,467.0 713.1,467.3 C714.4,467.6 715.0,466.2 717.0,466.4 C719.0,466.6 722.6,468.9 724.8,468.6 C727.0,468.3 727.8,464.9 730.0,464.7 C732.2,464.5 736.1,467.0 737.8,467.3 C739.5,467.6 738.4,465.6 740.4,466.4 C742.4,467.2 747.4,471.5 749.5,471.9 C751.6,472.2 751.7,468.8 753.0,468.5 C754.3,468.2 755.9,470.5 757.4,470.0 C758.9,469.5 760.3,467.2 761.8,465.6 C763.3,464.1 764.5,461.4 766.2,460.7 C767.9,460.0 770.4,461.2 772.1,461.6 C773.8,462.0 775.4,462.1 776.6,463.1 C777.8,464.1 778.3,466.6 779.5,467.8 C780.7,469.0 782.0,470.5 783.9,470.5 C785.8,470.5 788.6,467.9 790.6,467.8 C792.6,467.7 793.9,469.1 795.8,470.0 C797.6,470.9 800.0,472.0 801.7,473.0 C803.4,474.0 804.1,474.8 806.1,475.9 C808.1,476.9 810.8,477.9 813.5,479.3 C816.2,480.7 820.1,482.4 822.3,484.0 C824.5,485.6 825.3,487.0 826.8,489.2 C828.3,491.4 829.7,495.4 831.2,497.3 C832.7,499.2 834.2,499.2 835.6,500.3 C837.0,501.4 837.9,503.1 839.3,504.0 C840.6,504.9 842.4,507.1 843.7,505.4 C845.1,503.7 845.8,495.8 847.4,493.6 C849.0,491.4 851.8,493.0 853.3,492.2 C854.8,491.4 855.2,489.3 856.3,488.8 C857.4,488.3 858.5,488.5 860.0,489.0 C861.5,489.5 864.0,491.2 865.6,491.8 C867.2,492.4 868.6,491.9 869.7,492.5 C870.9,493.1 871.1,494.7 872.5,495.3 C873.9,495.9 876.5,497.4 878.1,496.0 C879.7,494.6 880.9,489.2 882.2,486.9 C883.5,484.6 884.5,484.9 885.7,482.1 C886.9,479.3 887.9,474.4 889.2,470.3 C890.5,466.2 892.0,460.5 893.3,457.8 C894.6,455.1 895.6,455.1 896.8,454.3 C898.0,453.5 899.2,453.5 900.3,452.9 C901.3,452.3 901.7,450.4 903.1,450.8 C904.5,451.2 907.2,454.1 908.6,455.0 C910.0,455.9 910.6,455.0 911.4,456.4 C912.2,457.8 912.4,462.3 913.5,463.3 C914.6,464.3 916.6,462.0 918.3,462.2 C920.0,462.4 922.3,463.8 923.9,464.7 C925.5,465.6 926.7,467.2 928.1,467.5 C929.5,467.8 930.8,465.9 932.2,466.4 C933.6,466.9 934.8,469.8 936.4,470.3 C938.0,470.8 940.5,469.8 941.9,469.6 C943.3,469.4 944.2,469.0 944.7,468.9" fill="none" stroke="#4563d6" stroke-width="2.6" stroke-linejoin="round"/>
<!-- title -->
<text x="58.5" y="49.5" font-size="20" font-weight="700" fill="#0e1a4b" stroke="#0e1a4b" stroke-width="0.6" textLength="480" lengthAdjust="spacingAndGlyphs">BTC Fundamentals (Network Growth + Liquidity)</text>
<text x="797" y="49" font-size="18" font-weight="700" fill="#161c48" textLength="83" lengthAdjust="spacingAndGlyphs">swissblock</text>
<text x="885.5" y="49" font-size="18" font-weight="400" fill="#22284e" textLength="103" lengthAdjust="spacingAndGlyphs">Bitcoin Vector</text>
<!-- top legend -->
<line x1="65.5" y1="88" x2="71.5" y2="88" stroke="#ecc48c" stroke-width="1.2"/>
<text x="77" y="89.6" font-size="8" fill="#8a8fa2" stroke="#8a8fa2" stroke-width="0.25" textLength="35" lengthAdjust="spacingAndGlyphs">BTC Price</text>
<line x1="120" y1="88" x2="125" y2="88" stroke="#d8dbe2" stroke-width="1.2"/>
<text x="131" y="89.6" font-size="8" fill="#8a8fa2" stroke="#8a8fa2" stroke-width="0.25" textLength="28.3" lengthAdjust="spacingAndGlyphs">Support</text>
<line x1="167.5" y1="88" x2="173.5" y2="88" stroke="#c86a7a" stroke-width="1.2"/>
<text x="179" y="89.6" font-size="8" fill="#8a8fa2" stroke="#8a8fa2" stroke-width="0.25" textLength="39.3" lengthAdjust="spacingAndGlyphs">Resistance</text>
<!-- y labels top -->
<text x="953" y="107.2" font-size="8" fill="#8f94a3" stroke="#8f94a3" stroke-width="0.2">120K</text>
<text x="953" y="145.1" font-size="8" fill="#8f94a3" stroke="#8f94a3" stroke-width="0.2">100K</text>
<text x="953" y="183.2" font-size="8" fill="#8f94a3" stroke="#8f94a3" stroke-width="0.2">80K</text>
<text x="953" y="221.8" font-size="8" fill="#8f94a3" stroke="#8f94a3" stroke-width="0.2">60K</text>
<rect x="945.3" y="111.8" width="35.8" height="11.6" fill="#f0a83e"/>
<text x="952" y="119.6" font-size="7.4" font-weight="700" fill="#ffffff" textLength="23.6" lengthAdjust="spacingAndGlyphs">114.2K</text>
<!-- bitcoin logo -->
<circle cx="61.3" cy="225.6" r="12.4" fill="#f59320"/>
<g transform="rotate(14 61.3 225.6)" fill="#ffffff">
<text x="61.6" y="231.4" font-size="15.5" font-weight="700" text-anchor="middle" stroke="#ffffff" stroke-width="0.7">B</text>
<rect x="58.4" y="217.2" width="1.6" height="3"/><rect x="61.6" y="217.2" width="1.6" height="3"/>
<rect x="58.4" y="230.8" width="1.6" height="3"/><rect x="61.6" y="230.8" width="1.6" height="3"/>
</g>
<!-- BTC Fundamentals tag -->
<rect x="66" y="257.5" width="100.5" height="20.5" fill="#eeeef3"/>
<text x="73.5" y="271.2" font-size="10" font-weight="700" fill="#2a2f52" textLength="85.5" lengthAdjust="spacingAndGlyphs">BTC Fundamentals</text>
<line x1="72" y1="291.8" x2="77.3" y2="291.8" stroke="#2c3674" stroke-width="1.5"/>
<text x="83.2" y="294.4" font-size="8" fill="#9a9eac" stroke="#9a9eac" stroke-width="0.15" textLength="10" lengthAdjust="spacingAndGlyphs">BFI</text>
<!-- middle labels -->
<text x="558.5" y="313.7" font-size="13" font-weight="700" fill="#3a5bd6" stroke="#3a5bd6" stroke-width="0.3" textLength="138" lengthAdjust="spacingAndGlyphs">Strong Fundamentals</text>
<text x="563" y="375" font-size="13" font-weight="700" fill="#e8716c" stroke="#e8716c" stroke-width="0.3" textLength="128.5" lengthAdjust="spacingAndGlyphs">Weak Fundamentals</text>
<text x="953" y="304.6" font-size="8" fill="#8f94a3" stroke="#8f94a3" stroke-width="0.2">100</text>
<text x="953" y="350.4" font-size="8" fill="#8f94a3" stroke="#8f94a3" stroke-width="0.2">40</text>
<text x="953" y="380.6" font-size="8" fill="#8f94a3" stroke="#8f94a3" stroke-width="0.2">0</text>
<rect x="945.4" y="326.8" width="19.8" height="12.2" fill="#3f63dc"/>
<text x="955.3" y="335.8" font-size="8" font-weight="700" fill="#ffffff" text-anchor="middle">63</text>
<!-- network growth vs liquidity tag -->
<rect x="335" y="386" width="142.5" height="20.6" fill="#eeeef3"/>
<text x="342.4" y="400" font-size="10" font-weight="700" fill="#2a2f52" textLength="127.8" lengthAdjust="spacingAndGlyphs">Network Growth Vs Liquidity</text>
<line x1="71.7" y1="421" x2="77.5" y2="421" stroke="#2c3674" stroke-width="1.5"/>
<text x="83.1" y="423.4" font-size="8" fill="#8a8fa2" stroke="#8a8fa2" stroke-width="0.25" textLength="28.5" lengthAdjust="spacingAndGlyphs">Liquidity</text>
<line x1="121" y1="421" x2="127.5" y2="421" stroke="#e07474" stroke-width="1.5"/>
<text x="132.7" y="423.4" font-size="8" fill="#8a8fa2" stroke="#8a8fa2" stroke-width="0.25" textLength="56.2" lengthAdjust="spacingAndGlyphs">Network Growth</text>
<!-- bottom y labels -->
<text x="953" y="437.3" font-size="8" fill="#8f94a3" stroke="#8f94a3" stroke-width="0.2">80</text>
<text x="953" y="448.6" font-size="8" fill="#8f94a3" stroke="#8f94a3" stroke-width="0.2">70</text>
<text x="953" y="459.8" font-size="8" fill="#8f94a3" stroke="#8f94a3" stroke-width="0.2">60</text>
<text x="953" y="482.1" font-size="8" fill="#8f94a3" stroke="#8f94a3" stroke-width="0.2">40</text>
<text x="953" y="493.3" font-size="8" fill="#8f94a3" stroke="#8f94a3" stroke-width="0.2">30</text>
<text x="953" y="504.5" font-size="8" fill="#8f94a3" stroke="#8f94a3" stroke-width="0.2">20</text>
<rect x="945.6" y="434.8" width="30.4" height="12" fill="#e8605e"/>
<text x="960.8" y="443.8" font-size="8" font-weight="700" fill="#ffffff" text-anchor="middle">77.23</text>
<rect x="945.6" y="466.5" width="31.4" height="11.7" fill="#3f63dc"/>
<text x="961.3" y="475.4" font-size="8" font-weight="700" fill="#ffffff" text-anchor="middle">48.93</text>
<text x="843.8" y="431.4" font-size="13" font-weight="700" fill="#e8625f" stroke="#e8625f" stroke-width="0.3" textLength="105.4" lengthAdjust="spacingAndGlyphs">Network Growth</text>
<text x="894.6" y="487" font-size="13" font-weight="700" fill="#1f1d8f" stroke="#1f1d8f" stroke-width="0.3" textLength="54.3" lengthAdjust="spacingAndGlyphs">Liquidity</text>
<!-- x labels -->
<text x="204" y="516" font-size="8" fill="#8f94a3" stroke="#8f94a3" stroke-width="0.2" text-anchor="middle">Oct</text>
<text x="424.5" y="516" font-size="8" fill="#8f94a3" stroke="#8f94a3" stroke-width="0.2" text-anchor="middle">Jan</text>
<text x="640.5" y="516" font-size="8" fill="#8f94a3" stroke="#8f94a3" stroke-width="0.2" text-anchor="middle">Apr</text>
<text x="858.5" y="516" font-size="8" fill="#8f94a3" stroke="#8f94a3" stroke-width="0.2" text-anchor="middle">Jul</text>
</svg>
</body></html>
